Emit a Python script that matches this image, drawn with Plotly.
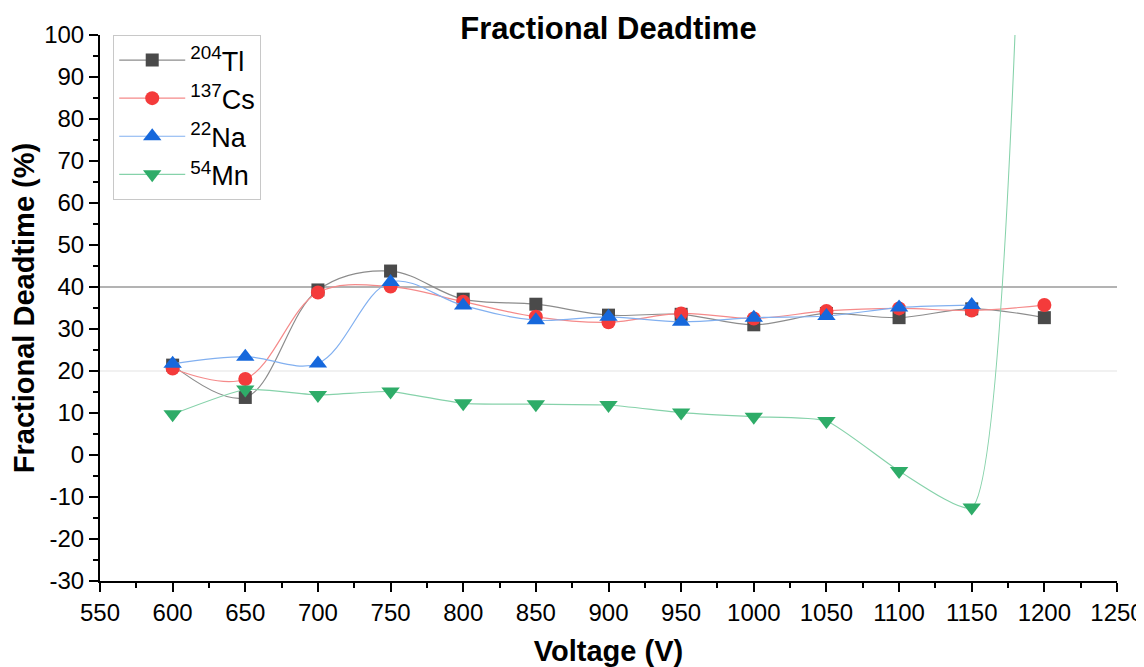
import plotly.graph_objects as go

voltage = [600, 650, 700, 750, 800, 850, 900, 950, 1000, 1050, 1100, 1150, 1200]
tl204 = [21.4, 13.7, 39.3, 43.8, 37.1, 35.9, 33.3, 33.5, 31.0, 33.7, 32.7, 34.8, 32.7]
cs137 = [20.6, 18.1, 38.7, 40.1, 36.5, 32.9, 31.6, 33.7, 32.5, 34.3, 34.9, 34.4, 35.7]
na22 = [21.7, 23.4, 21.8, 41.2, 35.6, 32.1, 32.9, 31.7, 32.7, 33.1, 35.1, 35.7, None]
mn54 = [9.7, 15.6, 14.3, 15.1, 12.3, 12.1, 11.9, 10.1, 9.1, 8.1, -3.8, -12.5, 400]
ref_lines = [40, 20]
ref_colors = ["#9a9a9a", "#ececec"]

x_ticks = [550, 600, 650, 700, 750, 800, 850, 900, 950, 1000, 1050, 1100, 1150, 1200, 1250]
y_ticks = [-30, -20, -10, 0, 10, 20, 30, 40, 50, 60, 70, 80, 90, 100]
y_ticktext = ["-30", "-20", "-10", "0", "10", "20", "30", "40", "50", "60", "70", "80", "90", "100"]

series = [
    ("<sup>204</sup>Tl", tl204, "square", 13, "#4a4a4a", "#8c8c8c", 1.0),
    ("<sup>137</sup>Cs", cs137, "circle", 14, "#f43b3b", "#f58a8a", 1.0),
    ("<sup>22</sup>Na", na22, "triangle-up", 16, "#1668dc", "#82b0f0", 1.0),
    ("<sup>54</sup>Mn", mn54, "triangle-down", 16, "#2eac68", "#86d2aa", 0.5),
]

FONT = "Liberation Sans, Arial, sans-serif"

# page has an 8px body margin: figure drawn at (8, 8)
W, H = 1144, 659

fig = go.Figure()
for name, vals, sym, sz, mc, lc, sm in series:
    fig.add_trace(go.Scatter(
        x=voltage, y=vals, name=name, mode="lines+markers",
        line=dict(color=lc, width=1.2, shape="spline", smoothing=sm),
        marker=dict(symbol=sym, size=sz, color=mc, line=dict(width=0)),
        cliponaxis=True,
    ))

for yv, col in zip(ref_lines, ref_colors):
    fig.add_shape(type="line", xref="paper", x0=0, x1=1, yref="y", y0=yv, y1=yv,
                  line=dict(color=col, width=1.3), layer="below")

fig.update_layout(
    width=W, height=H,
    margin=dict(l=92, r=35, t=27, b=86, autoexpand=False),
    paper_bgcolor="white", plot_bgcolor="white",
    font=dict(family=FONT, color="black"),
    title=dict(text="<b>Fractional Deadtime</b>", x=0.5, xref="paper",
               y=1 - 20 / H, yref="container", yanchor="middle",
               font=dict(size=31, family=FONT, color="black")),
    showlegend=True,
    legend=dict(x=0.013, y=1.0, xanchor="left", yanchor="top",
                bgcolor="white", bordercolor="#c8c8c8", borderwidth=1,
                font=dict(size=27, family=FONT, color="black"),
                tracegroupgap=0, itemwidth=66),
)

fig.update_xaxes(
    range=[550, 1250], tickvals=x_ticks, automargin=False,
    showline=True, linecolor="black", linewidth=2,
    ticks="outside", ticklen=9, tickwidth=2, tickcolor="black",
    minor=dict(ticks="outside", ticklen=5, tickwidth=1.5, tickcolor="black", dtick=25, showgrid=False),
    showgrid=False, zeroline=False,
    tickfont=dict(size=24, family=FONT, color="black"),
    title=dict(text="<b>Voltage (V)</b>", font=dict(size=29, family=FONT, color="black"), standoff=20),
)
fig.update_yaxes(
    range=[-30, 100], tickvals=y_ticks, ticktext=y_ticktext, automargin=False,
    showline=True, linecolor="black", linewidth=2,
    ticks="outside", ticklen=9, tickwidth=2, tickcolor="black",
    minor=dict(ticks="outside", ticklen=5, tickwidth=1.5, tickcolor="black", dtick=5, showgrid=False),
    showgrid=False, zeroline=False,
    tickfont=dict(size=24, family=FONT, color="black"),
    title=dict(text="<b>Fractional Deadtime (%)</b>", font=dict(size=29, family=FONT, color="black"), standoff=6),
)

fig.write_html("out.html")
